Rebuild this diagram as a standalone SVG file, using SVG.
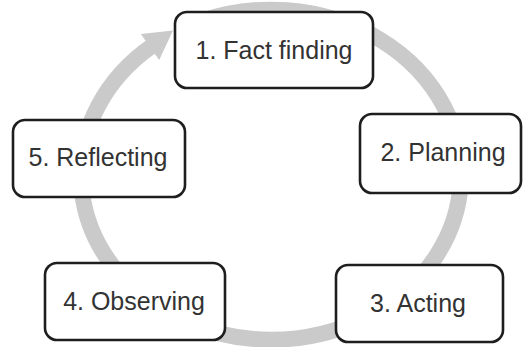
<svg xmlns="http://www.w3.org/2000/svg" width="523" height="347" viewBox="0 0 523 347">
<style>
.box{fill:#fff;stroke:#1e1e1e;stroke-width:2.6}
.lbl{font-family:"Liberation Sans",Arial,sans-serif;font-size:25px;fill:#333;text-anchor:middle}
.ring{fill:none;stroke:#cacaca;stroke-width:16}
</style>
<rect width="523" height="347" fill="#fff"/>
<g id="connectors">
<path class="ring" d="M200,21.6 A190 165 0 1 1 152,46"/>
<polygon points="173,30.5 159.2,60.1 140.8,33.9" fill="#cacaca"/>
</g>
<g id="n1"><rect class="box" x="175" y="12" width="198" height="76" rx="12"/><text class="lbl" x="274" y="59">1. Fact finding</text></g>
<g id="n2"><rect class="box" x="360" y="114" width="161" height="79" rx="12"/><text class="lbl" x="443" y="161">2. Planning</text></g>
<g id="n3"><rect class="box" x="336" y="265" width="167" height="77" rx="12"/><text class="lbl" x="418" y="312">3. Acting</text></g>
<g id="n4"><rect class="box" x="45" y="263" width="180" height="77" rx="12"/><text class="lbl" x="134" y="310">4. Observing</text></g>
<g id="n5"><rect class="box" x="13" y="120" width="172" height="77" rx="12"/><text class="lbl" x="98" y="166">5. Reflecting</text></g>
</svg>
